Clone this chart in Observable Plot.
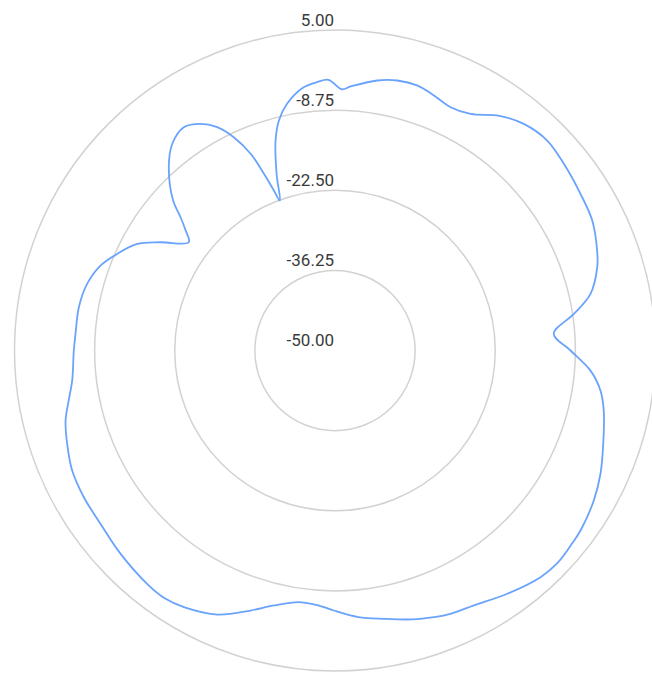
<!DOCTYPE html>
<html>
<head>
<meta charset="utf-8">
<script src="https://cdn.jsdelivr.net/npm/d3@7"></script>
<script src="https://cdn.jsdelivr.net/npm/@observablehq/plot@0.6"></script>
<style>
  html, body { margin: 0; padding: 0; background: #fff; }
  #chart svg { display: block; }
</style>
</head>
<body>
<div id="chart"></div>
<script>
// Radial scale ticks (value axis)
const ticks = [-50, -36.25, -22.5, -8.75, 5];
const rMin = -50, rMax = 5;

// Angle in degrees, clockwise from top
const angles = [
  1.5, 3.4, 8.9, 13.0, 17.2, 21.2, 25.4, 29.8, 35.0, 39.8,
  45.3, 50.8, 57.5, 63.2, 69.1, 72.4, 77.5, 81.3, 85.6, 90.0,
  94.5, 98.6, 102.6, 109.2, 114.9, 120.1, 126.2, 129.0, 133.8, 137.8,
  144.7, 151.4, 156.3, 159.6, 164.0, 169.7, 175.0, 180.3, 182.5, 184.8,
  188.2, 193.5, 198.0, 204.0, 210.5, 214.5, 218.5, 226.5, 233.5, 239.7,
  245.5, 250.8, 255.4, 259.4, 263.5, 270.0, 273.7, 279.6, 285.1, 289.9,
  293.9, 298.3, 301.8, 306.5, 308.8, 310.8, 312.8, 317.8, 321.8, 325.9,
  329.3, 332.2, 334.6, 336.8, 338.1, 339.1, 339.8, 341.7, 344.2, 346.3,
  349.0, 353.2, 356.2, 358.6
];
// Measured level at each angle
const levels = [
  -5.15, -4.61, -3.10, -2.45, -2.38, -3.06, -3.78, -3.20, -0.83, 0.62,
  1.23, 0.68, -0.03, -0.54, -1.85, -2.79, -5.09, -8.54, -12.35, -9.59,
  -6.02, -3.92, -2.74, -1.26, 0.23, 1.33, 2.24, 2.45, 2.80, 2.51,
  1.15, -0.18, -0.66, -1.20, -2.00, -3.20, -4.08, -5.38, -5.91, -6.26,
  -6.37, -5.00, -3.08, -0.40, 1.10, 1.60, 1.45, 0.71, 0.04, -0.08,
  -0.42, -1.33, -2.22, -3.51, -4.61, -5.18, -5.38, -5.42, -5.96, -7.20,
  -9.11, -11.44, -14.75, -18.78, -17.10, -14.97, -12.14, -7.54, -4.85, -3.72,
  -4.76, -6.67, -9.48, -13.26, -17.31, -20.60, -22.58, -18.06, -12.54, -9.36,
  -6.87, -4.51, -3.85, -3.53
];

const norm = v => (v - rMin) / (rMax - rMin);
const data = angles.map((a, i) => {
  const t = a * Math.PI / 180, n = norm(levels[i]);
  return {angle: a, level: levels[i], px: n * Math.sin(t), py: n * Math.cos(t)};
});

const cx = 334.5, cy = 350, R = 320.5;

const chart = Plot.plot({
  width: 652,
  height: 673,
  margin: 0,
  x: {domain: [-1, 1], range: [cx - R, cx + R], axis: null},
  y: {domain: [-1, 1], range: [cy + R, cy - R], axis: null},
  r: {type: "linear", domain: [rMin, rMax], range: [0, R]},
  marks: [
    Plot.dot(ticks, {x: () => 0, y: () => 0, r: d => d, fill: "none", stroke: "#d2d2d2", strokeWidth: 1.5}),
    Plot.line(data, {x: "px", y: "py", curve: "catmull-rom-closed", stroke: "#6aa3fb", strokeWidth: 1.8}),
    Plot.text(ticks, {
      x: () => 0, y: d => norm(d),
      text: d => d.toFixed(2),
      textAnchor: "end", dx: -1, dy: -9.5,
      fontSize: 17, fill: "#3a3a3a",
      fontFamily: "Roboto, 'Liberation Sans', sans-serif"
    })
  ]
});
document.getElementById("chart").appendChild(chart);
</script>
</body>
</html>
